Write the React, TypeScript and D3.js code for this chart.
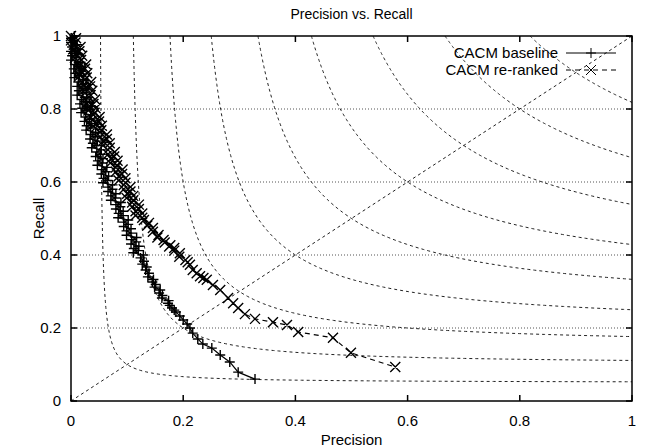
import React, { useEffect, useRef } from 'react'
import * as d3 from 'd3'

// precision, recall pairs (dense, jagged band near the top)
const baseline: [number, number][] = [
  [0.006, 1.000], [0.000, 0.994], [0.003, 0.988], [0.000, 0.982], [0.011, 0.976],
  [0.002, 0.970], [0.008, 0.964], [0.000, 0.958], [0.012, 0.952], [0.002, 0.946],
  [0.009, 0.940], [0.000, 0.934], [0.017, 0.928], [0.007, 0.922], [0.014, 0.916],
  [0.005, 0.910], [0.018, 0.904], [0.008, 0.898], [0.015, 0.892], [0.006, 0.886],
  [0.022, 0.880], [0.013, 0.874], [0.020, 0.868], [0.011, 0.862], [0.023, 0.856],
  [0.014, 0.850], [0.021, 0.844], [0.011, 0.838], [0.028, 0.832], [0.019, 0.826],
  [0.026, 0.820], [0.016, 0.814], [0.029, 0.808], [0.020, 0.802], [0.027, 0.796],
  [0.018, 0.790], [0.035, 0.784], [0.026, 0.778], [0.033, 0.772], [0.024, 0.766],
  [0.037, 0.760], [0.028, 0.754], [0.035, 0.748], [0.027, 0.742], [0.044, 0.736],
  [0.035, 0.730], [0.043, 0.724], [0.034, 0.718], [0.047, 0.712], [0.039, 0.706],
  [0.046, 0.700], [0.037, 0.694], [0.054, 0.688], [0.046, 0.682], [0.053, 0.676],
  [0.044, 0.670], [0.057, 0.664], [0.048, 0.658], [0.056, 0.652], [0.047, 0.646],
  [0.064, 0.640], [0.055, 0.634], [0.062, 0.628], [0.054, 0.622], [0.067, 0.616],
  [0.058, 0.610], [0.065, 0.604], [0.057, 0.598], [0.074, 0.592], [0.066, 0.586],
  [0.074, 0.580], [0.066, 0.574], [0.080, 0.568], [0.071, 0.562], [0.079, 0.556],
  [0.071, 0.550], [0.089, 0.544], [0.080, 0.538], [0.088, 0.532], [0.080, 0.526],
  [0.093, 0.520], [0.085, 0.514], [0.093, 0.508], [0.084, 0.502], [0.102, 0.496],
  [0.094, 0.490], [0.102, 0.484], [0.094, 0.478], [0.107, 0.472], [0.099, 0.466],
  [0.107, 0.460], [0.099, 0.454], [0.117, 0.448], [0.108, 0.442], [0.116, 0.436],
  [0.107, 0.430], [0.121, 0.424], [0.112, 0.418], [0.120, 0.412], [0.111, 0.406],
  [0.129, 0.400], [0.124, 0.392], [0.130, 0.383], [0.127, 0.375], [0.135, 0.367],
  [0.133, 0.359], [0.139, 0.350], [0.137, 0.340], [0.147, 0.333], [0.145, 0.326],
  [0.151, 0.319], [0.149, 0.312], [0.159, 0.304], [0.157, 0.296], [0.163, 0.289],
  [0.162, 0.282], [0.174, 0.275], [0.173, 0.268], [0.176, 0.262], [0.180, 0.255],
  [0.184, 0.249], [0.187, 0.244], [0.194, 0.233], [0.200, 0.222], [0.207, 0.211],
  [0.212, 0.200], [0.217, 0.186], [0.226, 0.170], [0.235, 0.156], [0.251, 0.145],
  [0.266, 0.126], [0.283, 0.107], [0.298, 0.079], [0.328, 0.060]
]

const reranked: [number, number][] = [
  [0.000, 1.000], [0.009, 0.994], [0.000, 0.988], [0.008, 0.982], [0.005, 0.976],
  [0.017, 0.970], [0.004, 0.964], [0.015, 0.958], [0.009, 0.952], [0.020, 0.946],
  [0.007, 0.940], [0.018, 0.934], [0.015, 0.928], [0.027, 0.922], [0.014, 0.916],
  [0.025, 0.910], [0.018, 0.904], [0.029, 0.898], [0.016, 0.892], [0.028, 0.886],
  [0.025, 0.880], [0.036, 0.874], [0.023, 0.868], [0.034, 0.862], [0.027, 0.856],
  [0.038, 0.850], [0.025, 0.844], [0.035, 0.838], [0.032, 0.832], [0.043, 0.826],
  [0.030, 0.820], [0.040, 0.814], [0.033, 0.808], [0.044, 0.802], [0.031, 0.796],
  [0.042, 0.790], [0.040, 0.784], [0.051, 0.778], [0.039, 0.772], [0.050, 0.766],
  [0.044, 0.760], [0.055, 0.754], [0.043, 0.748], [0.054, 0.742], [0.052, 0.736],
  [0.064, 0.730], [0.052, 0.724], [0.064, 0.718], [0.057, 0.712], [0.069, 0.706],
  [0.057, 0.700], [0.069, 0.694], [0.066, 0.688], [0.078, 0.682], [0.066, 0.676],
  [0.077, 0.670], [0.071, 0.664], [0.083, 0.658], [0.070, 0.652], [0.082, 0.646],
  [0.080, 0.640], [0.092, 0.634], [0.080, 0.628], [0.091, 0.622], [0.085, 0.616],
  [0.097, 0.610], [0.085, 0.604], [0.097, 0.598], [0.094, 0.592], [0.106, 0.586],
  [0.094, 0.580], [0.106, 0.574], [0.100, 0.568], [0.111, 0.562], [0.099, 0.556],
  [0.111, 0.550], [0.109, 0.544], [0.121, 0.538], [0.109, 0.532], [0.121, 0.526],
  [0.115, 0.520], [0.127, 0.514], [0.115, 0.508], [0.127, 0.502], [0.130, 0.496],
  [0.139, 0.488], [0.136, 0.481], [0.146, 0.474], [0.146, 0.464], [0.156, 0.455],
  [0.154, 0.448], [0.165, 0.441], [0.167, 0.434], [0.177, 0.427], [0.175, 0.423],
  [0.184, 0.419], [0.184, 0.412], [0.194, 0.405], [0.193, 0.395], [0.204, 0.386],
  [0.208, 0.380], [0.212, 0.373], [0.217, 0.359], [0.224, 0.350], [0.230, 0.342],
  [0.236, 0.337], [0.242, 0.332], [0.253, 0.318], [0.266, 0.304], [0.280, 0.282],
  [0.289, 0.268], [0.298, 0.255], [0.310, 0.238], [0.328, 0.225], [0.360, 0.216],
  [0.385, 0.208], [0.405, 0.189], [0.467, 0.173], [0.499, 0.132], [0.578, 0.093]
]

const fLevels = [0.1, 0.2, 0.3, 0.4, 0.5, 0.6, 0.7, 0.8, 0.9]
const ticks = [0, 0.2, 0.4, 0.6, 0.8, 1]
const gridTicks = [0.2, 0.4, 0.6, 0.8]
const seriesNames = ['CACM baseline', 'CACM re-ranked']

const W = 647, H = 448
const m = { left: 71, right: 15, top: 36, bottom: 47 }
const FONT = 'Liberation Sans, Arial, sans-serif'

export default function App() {
  const ref = useRef<SVGSVGElement>(null)

  useEffect(() => {
    const svg = d3.select(ref.current)
    svg.selectAll('*').remove()

    const x = d3.scaleLinear().domain([0, 1]).range([m.left, W - m.right])
    const y = d3.scaleLinear().domain([0, 1]).range([H - m.bottom, m.top])

    svg.append('rect').attr('width', W).attr('height', H).attr('fill', '#fff')

    const clip = svg.append('clipPath').attr('id', 'plotclip')
    clip.append('rect')
      .attr('x', x(0)).attr('y', y(1))
      .attr('width', x(1) - x(0)).attr('height', y(0) - y(1))

    // grid
    svg.append('g').selectAll('line').data(gridTicks).enter().append('line')
      .attr('x1', x(0)).attr('x2', x(1))
      .attr('y1', d => y(d)).attr('y2', d => y(d))
      .attr('stroke', '#555').attr('stroke-width', 1)
      .attr('stroke-dasharray', '1,2')

    const plot = svg.append('g').attr('clip-path', 'url(#plotclip)')

    // iso F-measure curves
    const line = d3.line<[number, number]>().x(d => x(d[0])).y(d => y(d[1]))
    fLevels.forEach(f => {
      const pts: [number, number][] = []
      const p0 = f / (2 - f)
      for (let i = 0; i <= 200; i++) {
        const p = p0 + (1 - p0) * Math.pow(i / 200, 2)
        pts.push([p, f * p / (2 * p - f)])
      }
      plot.append('path').attr('d', line(pts))
        .attr('fill', 'none').attr('stroke', '#222').attr('stroke-width', 1)
        .attr('stroke-dasharray', '3,3')
    })
    plot.append('path').attr('d', line([[0, 0], [1, 1]]))
      .attr('fill', 'none').attr('stroke', '#222').attr('stroke-width', 1)
      .attr('stroke-dasharray', '3,3')

    const plus = (px: number, py: number, s: number) =>
      `M${px - s},${py}h${2 * s}M${px},${py - s}v${2 * s}`
    const cross = (px: number, py: number, s: number) =>
      `M${px - s},${py - s}l${2 * s},${2 * s}M${px - s},${py + s}l${2 * s},${-2 * s}`

    // baseline
    plot.append('path').attr('d', line(baseline))
      .attr('fill', 'none').attr('stroke', '#000').attr('stroke-width', 1.2)
    svg.append('path')
      .attr('d', baseline.map(d => plus(x(d[0]), y(d[1]), 5)).join(''))
      .attr('fill', 'none').attr('stroke', '#000').attr('stroke-width', 1.4)

    // re-ranked
    plot.append('path').attr('d', line(reranked))
      .attr('fill', 'none').attr('stroke', '#000').attr('stroke-width', 1.2)
      .attr('stroke-dasharray', '5,4')
    svg.append('path')
      .attr('d', reranked.map(d => cross(x(d[0]), y(d[1]), 5)).join(''))
      .attr('fill', 'none').attr('stroke', '#000').attr('stroke-width', 1.4)

    // border
    svg.append('rect')
      .attr('x', x(0)).attr('y', y(1))
      .attr('width', x(1) - x(0)).attr('height', y(0) - y(1))
      .attr('fill', 'none').attr('stroke', '#000').attr('stroke-width', 1.5)

    // ticks, mirrored
    const tk = svg.append('g').attr('stroke', '#000').attr('stroke-width', 1.5)
    ticks.forEach(t => {
      tk.append('line').attr('x1', x(t)).attr('x2', x(t)).attr('y1', y(0)).attr('y2', y(0) - 6)
      tk.append('line').attr('x1', x(t)).attr('x2', x(t)).attr('y1', y(1)).attr('y2', y(1) + 6)
      tk.append('line').attr('y1', y(t)).attr('y2', y(t)).attr('x1', x(0)).attr('x2', x(0) + 6)
      tk.append('line').attr('y1', y(t)).attr('y2', y(t)).attr('x1', x(1)).attr('x2', x(1) - 6)
    })

    const fmt = (d: number) => String(d)
    svg.append('g').selectAll('text').data(ticks).enter().append('text')
      .attr('x', d => x(d)).attr('y', y(0) + 25)
      .attr('text-anchor', 'middle')
      .style('font', `15px ${FONT}`).text(fmt)
    svg.append('g').selectAll('text').data(ticks).enter().append('text')
      .attr('x', x(0) - 10).attr('y', d => y(d) + 5)
      .attr('text-anchor', 'end')
      .style('font', `15px ${FONT}`).text(fmt)

    svg.append('text').attr('x', (x(0) + x(1)) / 2).attr('y', 19)
      .attr('text-anchor', 'middle').style('font', `14px ${FONT}`)
      .text('Precision vs. Recall')
    svg.append('text').attr('x', (x(0) + x(1)) / 2).attr('y', 445)
      .attr('text-anchor', 'middle').style('font', `15px ${FONT}`)
      .text('Precision')
    svg.append('text')
      .attr('transform', `translate(${44},${(y(0) + y(1)) / 2}) rotate(-90)`)
      .attr('text-anchor', 'middle').style('font', `15px ${FONT}`)
      .text('Recall')

    // legend
    const lg = svg.append('g')
    seriesNames.forEach((name, i) => {
      const ly = 53 + i * 17
      lg.append('text').attr('x', 558).attr('y', ly + 5)
        .attr('text-anchor', 'end').style('font', `15px ${FONT}`).text(name)
      lg.append('line').attr('x1', 566).attr('x2', 616).attr('y1', ly).attr('y2', ly)
        .attr('stroke', '#000').attr('stroke-width', 1)
        .attr('stroke-dasharray', i === 0 ? null : '5,4')
      lg.append('path')
        .attr('d', i === 0 ? plus(591, ly, 5) : cross(591, ly, 5))
        .attr('fill', 'none').attr('stroke', '#000').attr('stroke-width', 1)
    })
  }, [])

  return (
    <svg ref={ref} width={W} height={H}
      style={{ position: 'absolute', left: 0, top: 0, background: '#fff' }} />
  )
}
